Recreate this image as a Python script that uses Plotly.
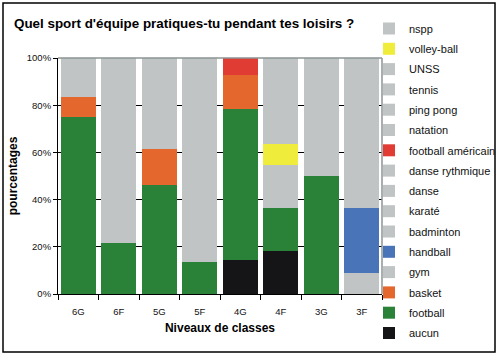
import plotly.graph_objects as go

categories = ["6G", "6F", "5G", "5F", "4G", "4F", "3G", "3F"]

# stacking order bottom -> top
series_names = ["aucun", "football", "basket", "gym", "handball", "badminton",
                "karaté", "danse", "danse rythmique", "football américain",
                "natation", "ping pong", "tennis", "UNSS", "volley-ball", "nspp"]

aucun = [0, 0, 0, 0, 14.29, 18.18, 0, 0]
football = [75.0, 21.7, 46.15, 13.6, 64.29, 18.18, 50.0, 0]
basket = [8.33, 0, 15.38, 0, 14.29, 0, 0, 0]
gym = [0, 0, 0, 0, 0, 0, 0, 9.09]
handball = [0, 0, 0, 0, 0, 0, 0, 27.27]
badminton = [0, 0, 0, 0, 0, 0, 0, 9.09]
karate = [0, 0, 0, 0, 0, 0, 0, 0]
danse = [0, 0, 0, 0, 0, 9.09, 0, 0]
danse_rythmique = [0, 0, 0, 0, 0, 0, 0, 0]
football_americain = [0, 0, 0, 0, 7.14, 0, 0, 0]
natation = [0, 0, 0, 0, 0, 0, 0, 0]
ping_pong = [0, 0, 0, 0, 0, 0, 0, 0]
tennis = [0, 0, 7.69, 0, 0, 0, 0, 0]
unss = [0, 0, 0, 0, 0, 9.09, 0, 0]
volley_ball = [0, 0, 0, 0, 0, 9.09, 0, 0]
nspp = [16.67, 78.3, 30.77, 86.4, 0, 36.36, 50.0, 54.55]

series_values = [aucun, football, basket, gym, handball, badminton, karate, danse,
                 danse_rythmique, football_americain, natation, ping_pong, tennis,
                 unss, volley_ball, nspp]

GREY = "#C0C4C4"
colors = {
    "aucun": "#151518", "football": "#2A8138", "basket": "#E4682E",
    "handball": "#4A74B8", "football américain": "#E03C34", "volley-ball": "#F0EC3C",
}

fig = go.Figure()
n = len(series_names)
for i, (name, vals) in enumerate(zip(series_names, series_values)):
    fig.add_trace(go.Bar(
        x=categories, y=vals, name=name, legendgroup=name, legendrank=100 + (n - i),
        marker=dict(color=colors.get(name, GREY), line=dict(width=0)),
    ))

FONT = "Liberation Sans, Arial, sans-serif"
W, H = 500, 358
L, R, T, B = 58, 118, 58, 64
pw, ph = W - L - R, H - T - B

def px(x):
    return (x - L) / pw

def py(y):
    return (H - B - y) / ph

fig.update_layout(
    width=W, height=H,
    margin=dict(l=L, r=R, t=T, b=B, autoexpand=False),
    barmode="stack", bargap=0.13,
    paper_bgcolor="white", plot_bgcolor="white",
    font=dict(family=FONT, size=10, color="#111"),
    title=dict(text="Quel sport d'équipe pratiques-tu pendant tes loisirs ?",
               x=14 / W, xref="container", xanchor="left",
               y=1 - 23 / H, yref="container", yanchor="middle",
               font=dict(family=FONT, size=13.4, color="#000", weight="bold")),
    legend=dict(x=369 / W, xref="container", xanchor="left",
                y=1 - 14 / H, yref="container", yanchor="top",
                traceorder="grouped", tracegroupgap=1.3,
                font=dict(family=FONT, size=11, color="#111"),
                bgcolor="rgba(0,0,0,0)", itemclick=False),
    xaxis=dict(showline=True, linecolor="#000", linewidth=1,
               ticks="outside", tickson="boundaries", ticklen=5, tickcolor="#000",
               tickfont=dict(size=9.5), ticklabelstandoff=9, automargin=False,
               title=dict(text="Niveaux de classes", standoff=7,
                          font=dict(family=FONT, size=12, color="#000", weight="bold"))),
    yaxis=dict(range=[0, 100], tickvals=[0, 20, 40, 60, 80, 100],
               ticktext=["0%", "20%", "40%", "60%", "80%", "100%"],
               showline=True, linecolor="#000", linewidth=1,
               ticks="outside", ticklen=4, tickcolor="#000",
               showgrid=True, gridcolor="#000", gridwidth=1, zeroline=False,
               tickfont=dict(size=9.5), automargin=False,
               title=dict(text="pourcentages", standoff=6,
                          font=dict(family=FONT, size=12, color="#000", weight="bold"))),
    shapes=[
        dict(type="line", xref="paper", yref="paper", x0=0, x1=1, y0=1, y1=1,
             line=dict(color="#8C9494", width=1.5), layer="above"),
        dict(type="line", xref="paper", yref="paper", x0=1, x1=1, y0=0, y1=1,
             line=dict(color="#8C9494", width=1.5), layer="above"),
        dict(type="rect", xref="paper", yref="paper",
             x0=px(3), x1=px(495), y0=py(352), y1=py(3),
             line=dict(color="#000", width=1.5), layer="above"),
    ],
)
try:
    fig.update_layout(legend_maxheight=1)
except Exception:
    pass

fig.write_html("out.html", config={"displayModeBar": False},
               post_script="document.body.style.margin='0';document.body.style.overflow='hidden';")
